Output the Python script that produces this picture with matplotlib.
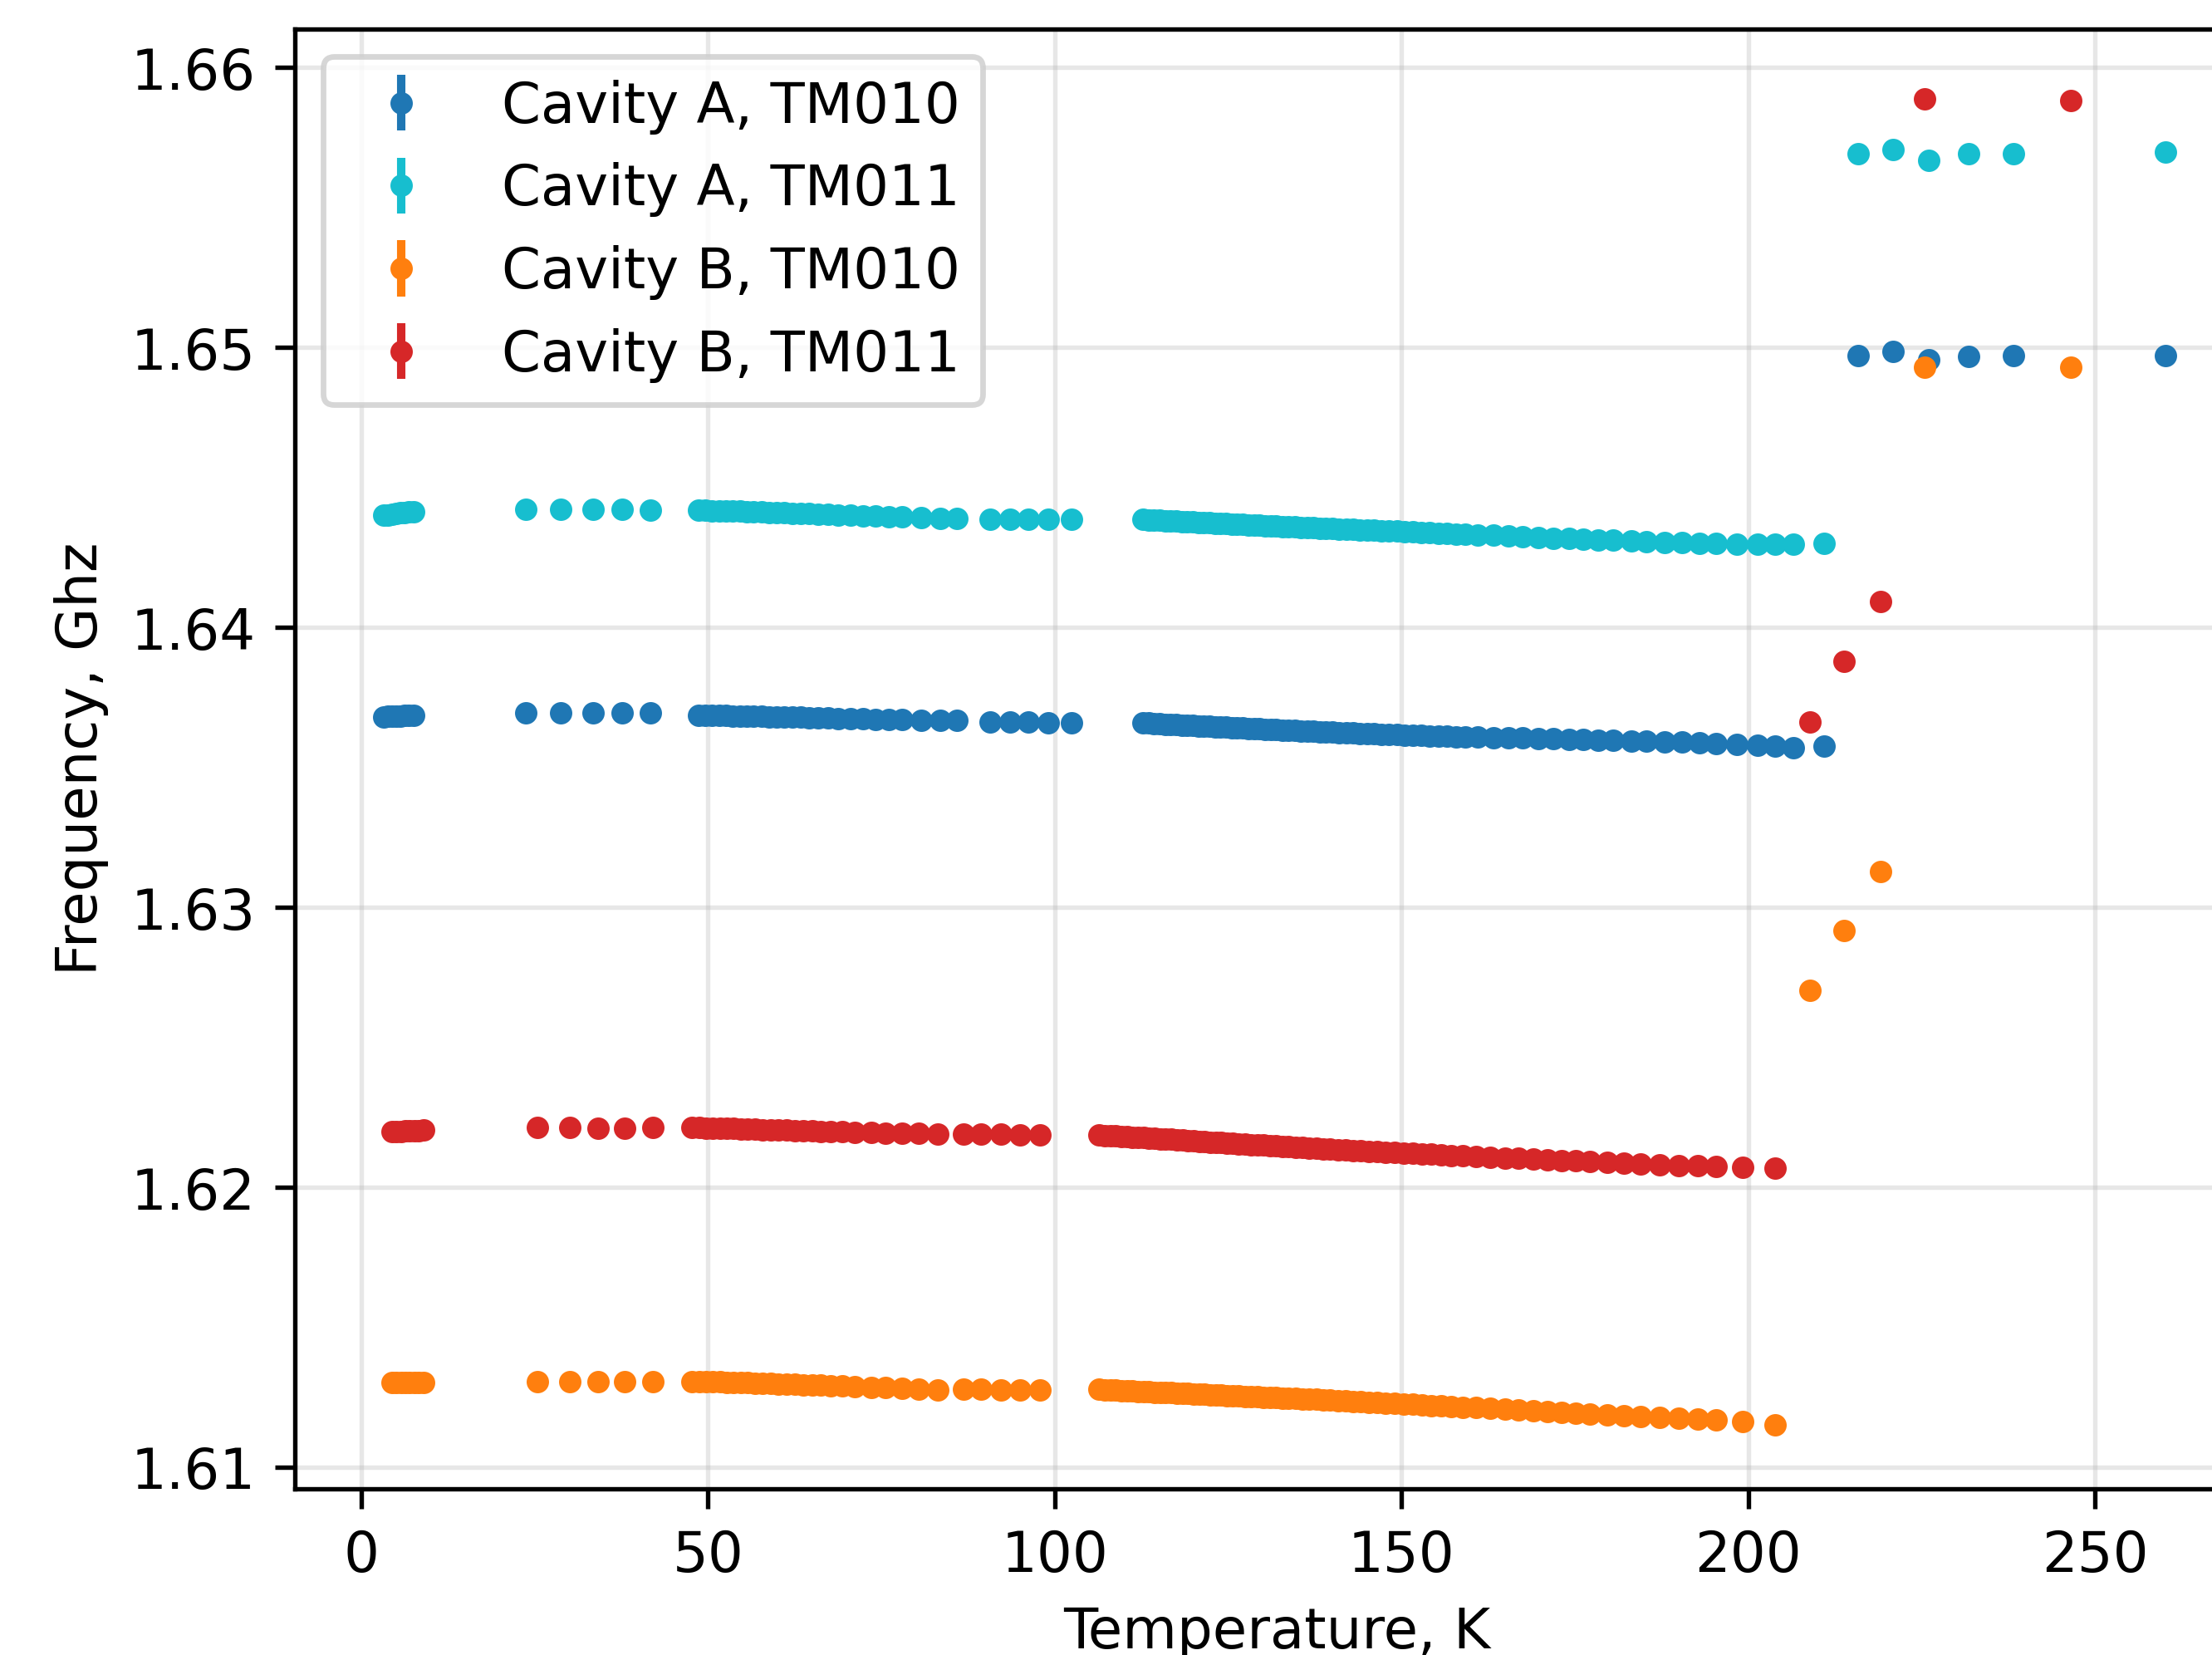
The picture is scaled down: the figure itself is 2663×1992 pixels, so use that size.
import matplotlib
matplotlib.use("Agg")
import matplotlib.pyplot as plt

plt.rcParams['font.family'] = ['DejaVu Sans']

# ---------------- data ----------------
# Cavity A temperatures (K) - shared by both modes
A_T = [3.3, 3.9, 4.5, 5.1, 5.7, 6.3, 6.9, 7.5,
       23.7, 28.7, 33.4, 37.6, 41.7,
       48.6, 49.6, 50.6, 51.6, 52.6, 53.6, 54.6, 55.6, 56.6, 57.7,
       58.8, 59.9, 61.0, 62.2, 63.4, 64.6, 65.9, 67.3, 68.8, 70.5,
       72.3, 74.2, 76.1, 78.0, 80.7, 83.5, 85.9,
       90.7, 93.5, 96.2, 99.0, 102.4,
       112.7, 113.5, 114.3, 115.1, 115.9, 116.7, 117.5, 118.3, 119.1, 119.9,
       120.7, 121.5, 122.3, 123.1, 123.9, 124.7, 125.5, 126.3, 127.1, 127.9,
       128.7, 129.5, 130.3, 131.1, 131.9, 132.8, 133.7, 134.6, 135.5, 136.4,
       137.3, 138.2, 139.1, 140.0, 141.0, 142.0, 143.0, 144.0, 145.0, 146.0,
       147.1, 148.2, 149.3, 150.4, 151.6, 152.8, 154.0, 155.3, 156.6, 157.9,
       159.2, 161.0, 163.2, 165.4, 167.5, 169.7, 171.9, 174.1, 176.2, 178.4,
       180.5, 183.1, 185.3, 187.9, 190.4, 192.9, 195.4, 198.3, 201.3, 203.8,
       206.5, 210.9,
       215.8, 220.9, 226.0, 231.7, 238.2, 260.1]

A_TM010 = [1.63681, 1.63682, 1.63683, 1.63684, 1.63684, 1.63685, 1.63686, 1.63686,
           1.63696, 1.63695, 1.63696, 1.63695, 1.63694,
           1.63686, 1.63686, 1.63685, 1.63685, 1.63685, 1.63684, 1.63684, 1.63683, 1.63683, 1.63682,
           1.63681, 1.63681, 1.63680, 1.63679, 1.63679, 1.63678, 1.63677, 1.63676, 1.63675, 1.63674,
           1.63673, 1.63672, 1.63671, 1.63670, 1.63669, 1.63668, 1.63667,
           1.63662, 1.63661, 1.63661, 1.63660, 1.63660,
           1.63659, 1.63658, 1.63657, 1.63656, 1.63655, 1.63654, 1.63653, 1.63652, 1.63651, 1.63650,
           1.63649, 1.63648, 1.63647, 1.63646, 1.63645, 1.63644, 1.63643, 1.63642, 1.63641, 1.63640,
           1.63639, 1.63638, 1.63637, 1.63636, 1.63635, 1.63634, 1.63633, 1.63632, 1.63631, 1.63630,
           1.63629, 1.63628, 1.63627, 1.63626, 1.63625, 1.63624, 1.63623, 1.63622, 1.63621, 1.63620,
           1.63619, 1.63618, 1.63617, 1.63616, 1.63615, 1.63614, 1.63613, 1.63612, 1.63611, 1.63610,
           1.63609, 1.63608, 1.63607, 1.63606, 1.63605, 1.63604, 1.63602, 1.63601, 1.63600, 1.63598,
           1.63597, 1.63595, 1.63594, 1.63592, 1.63590, 1.63588, 1.63586, 1.63583, 1.63580, 1.63577,
           1.63571, 1.63575,
           1.64972, 1.64987, 1.64956, 1.64968, 1.64972, 1.64972]

A_TM011 = [1.64401, 1.64402, 1.64404, 1.64406, 1.64409, 1.64411, 1.64412, 1.64413,
           1.64422, 1.64421, 1.64422, 1.64421, 1.64420,
           1.64418, 1.64418, 1.64417, 1.64417, 1.64416, 1.64415, 1.64415, 1.64414, 1.64413, 1.64412,
           1.64411, 1.64410, 1.64409, 1.64408, 1.64407, 1.64406, 1.64405, 1.64403, 1.64402, 1.64401,
           1.64400, 1.64398, 1.64397, 1.64395, 1.64393, 1.64391, 1.64390,
           1.64388, 1.64388, 1.64387, 1.64387, 1.64387,
           1.64386, 1.64385, 1.64384, 1.64383, 1.64382, 1.64381, 1.64380, 1.64379, 1.64378, 1.64377,
           1.64376, 1.64375, 1.64374, 1.64373, 1.64372, 1.64371, 1.64370, 1.64369, 1.64368, 1.64367,
           1.64366, 1.64365, 1.64364, 1.64363, 1.64362, 1.64361, 1.64360, 1.64359, 1.64358, 1.64357,
           1.64356, 1.64355, 1.64354, 1.64353, 1.64352, 1.64351, 1.64350, 1.64349, 1.64348, 1.64347,
           1.64346, 1.64345, 1.64344, 1.64343, 1.64341, 1.64340, 1.64339, 1.64337, 1.64336, 1.64334,
           1.64333, 1.64331, 1.64329, 1.64326, 1.64324, 1.64322, 1.64319, 1.64317, 1.64315, 1.64313,
           1.64311, 1.64309, 1.64307, 1.64305, 1.64303, 1.64302, 1.64300, 1.64299, 1.64298, 1.64297,
           1.64297, 1.64300,
           1.65693, 1.65708, 1.65670, 1.65693, 1.65693, 1.65700]

# Cavity B temperatures (K) - shared by both modes
B_T = [4.5, 5.1, 5.8, 6.4, 7.0, 7.7, 8.3, 9.0,
       25.4, 30.1, 34.2, 38.0, 42.0,
       47.7, 48.7, 49.7, 50.7, 51.7, 52.7, 53.7, 54.7, 55.7, 56.8,
       57.9, 59.0, 60.1, 61.3, 62.5, 63.7, 65.0, 66.3, 67.7, 69.3,
       71.1, 73.5, 75.6, 78.0, 80.4, 83.1,
       86.9, 89.4, 92.2, 95.0, 97.9,
       106.4, 107.2, 108.0, 108.8, 109.6, 110.4, 111.2, 112.0, 112.8, 113.6,
       114.4, 115.2, 116.0, 116.8, 117.6, 118.4, 119.2, 120.0, 120.8, 121.6,
       122.4, 123.2, 124.0, 124.8, 125.6, 126.5, 127.4, 128.3, 129.2, 130.1,
       131.0, 131.9, 132.8, 133.7, 134.7, 135.7, 136.7, 137.7, 138.7, 139.7,
       140.8, 141.9, 143.0, 144.1, 145.3, 146.5, 147.7, 149.0, 150.3, 151.6,
       152.9, 154.3, 155.7, 157.2, 158.8, 160.7, 162.8, 164.9, 166.9, 169.0,
       171.0, 173.1, 175.1, 177.2, 179.6, 182.0, 184.4, 187.2, 190.0, 192.7,
       195.3, 199.2, 203.8,
       208.9, 213.8, 219.1, 225.4, 246.5]

B_TM010 = [1.61302, 1.61302, 1.61303, 1.61303, 1.61303, 1.61304, 1.61304, 1.61304,
           1.61307, 1.61307, 1.61306, 1.61307, 1.61307,
           1.61307, 1.61307, 1.61306, 1.61306, 1.61305, 1.61304, 1.61304, 1.61303, 1.61302, 1.61301,
           1.61300, 1.61299, 1.61298, 1.61297, 1.61296, 1.61295, 1.61294, 1.61293, 1.61291, 1.61290,
           1.61288, 1.61286, 1.61284, 1.61281, 1.61279, 1.61276,
           1.61278, 1.61278, 1.61277, 1.61277, 1.61276,
           1.61278, 1.61277, 1.61276, 1.61275, 1.61274, 1.61273, 1.61272, 1.61271, 1.61270, 1.61269,
           1.61268, 1.61267, 1.61266, 1.61266, 1.61265, 1.61264, 1.61263, 1.61262, 1.61261, 1.61260,
           1.61259, 1.61258, 1.61257, 1.61256, 1.61255, 1.61254, 1.61253, 1.61252, 1.61251, 1.61250,
           1.61249, 1.61248, 1.61247, 1.61246, 1.61245, 1.61244, 1.61243, 1.61242, 1.61241, 1.61240,
           1.61238, 1.61237, 1.61236, 1.61234, 1.61233, 1.61231, 1.61230, 1.61228, 1.61226, 1.61225,
           1.61223, 1.61221, 1.61219, 1.61217, 1.61215, 1.61213, 1.61210, 1.61207, 1.61205, 1.61202,
           1.61199, 1.61197, 1.61194, 1.61191, 1.61188, 1.61185, 1.61182, 1.61178, 1.61175, 1.61172,
           1.61169, 1.61164, 1.61152,
           1.62705, 1.62916, 1.63127, 1.64931, 1.64931]

B_TM011 = [1.62198, 1.62199, 1.62200, 1.62201, 1.62202, 1.62203, 1.62203, 1.62204,
           1.62213, 1.62213, 1.62212, 1.62212, 1.62213,
           1.62213, 1.62213, 1.62212, 1.62212, 1.62211, 1.62210, 1.62210, 1.62209, 1.62208, 1.62207,
           1.62206, 1.62205, 1.62205, 1.62204, 1.62203, 1.62202, 1.62201, 1.62200, 1.62199, 1.62198,
           1.62197, 1.62196, 1.62194, 1.62193, 1.62192, 1.62190,
           1.62190, 1.62189, 1.62189, 1.62188, 1.62188,
           1.62186, 1.62185, 1.62184, 1.62183, 1.62181, 1.62180, 1.62179, 1.62178, 1.62177, 1.62175,
           1.62174, 1.62173, 1.62172, 1.62171, 1.62169, 1.62168, 1.62167, 1.62166, 1.62165, 1.62163,
           1.62162, 1.62161, 1.62160, 1.62159, 1.62157, 1.62156, 1.62155, 1.62153, 1.62152, 1.62151,
           1.62149, 1.62148, 1.62147, 1.62145, 1.62144, 1.62142, 1.62141, 1.62139, 1.62138, 1.62137,
           1.62135, 1.62134, 1.62132, 1.62131, 1.62129, 1.62127, 1.62126, 1.62124, 1.62122, 1.62121,
           1.62119, 1.62118, 1.62116, 1.62114, 1.62112, 1.62110, 1.62108, 1.62105, 1.62103, 1.62100,
           1.62098, 1.62096, 1.62094, 1.62091, 1.62089, 1.62086, 1.62084, 1.62081, 1.62078, 1.62076,
           1.62074, 1.62071, 1.62070,
           1.63663, 1.63880, 1.64092, 1.65888, 1.65883]

freq_err = 0.00001  # GHz, smaller than the markers

series = [
    (A_T, A_TM010, "Cavity A, TM010", "#1f77b4"),
    (A_T, A_TM011, "Cavity A, TM011", "#17becf"),
    (B_T, B_TM010, "Cavity B, TM010", "#ff7f0e"),
    (B_T, B_TM011, "Cavity B, TM011", "#d62728"),
]

# ---------------- figure ----------------
DPI = 485
W, H = 2663, 1992
fig = plt.figure(figsize=((W + 0.4) / DPI, (H + 0.4) / DPI), dpi=DPI)
# the reference is a crop: the axes run past the right edge of the image
ax = fig.add_axes([355 / W, (H - 1792) / H, (2719 - 355) / W, (1792 - 35) / H])

for T, f, lab, col in series:
    ax.errorbar(T, f, yerr=freq_err, fmt='.', color=col, label=lab)

ax.set_xlim(-9.56, 273.6)
ax.set_ylim(1.60923, 1.66139)
ax.set_xticks([0, 50, 100, 150, 200, 250])
ax.set_yticks([1.61, 1.62, 1.63, 1.64, 1.65, 1.66])
ax.grid(True, alpha=0.3)
ax.set_xlabel("Temperature, K")
ax.set_ylabel("Frequency, Ghz")
ax.legend(loc='upper left')

fig.savefig("out.png", dpi=DPI)
